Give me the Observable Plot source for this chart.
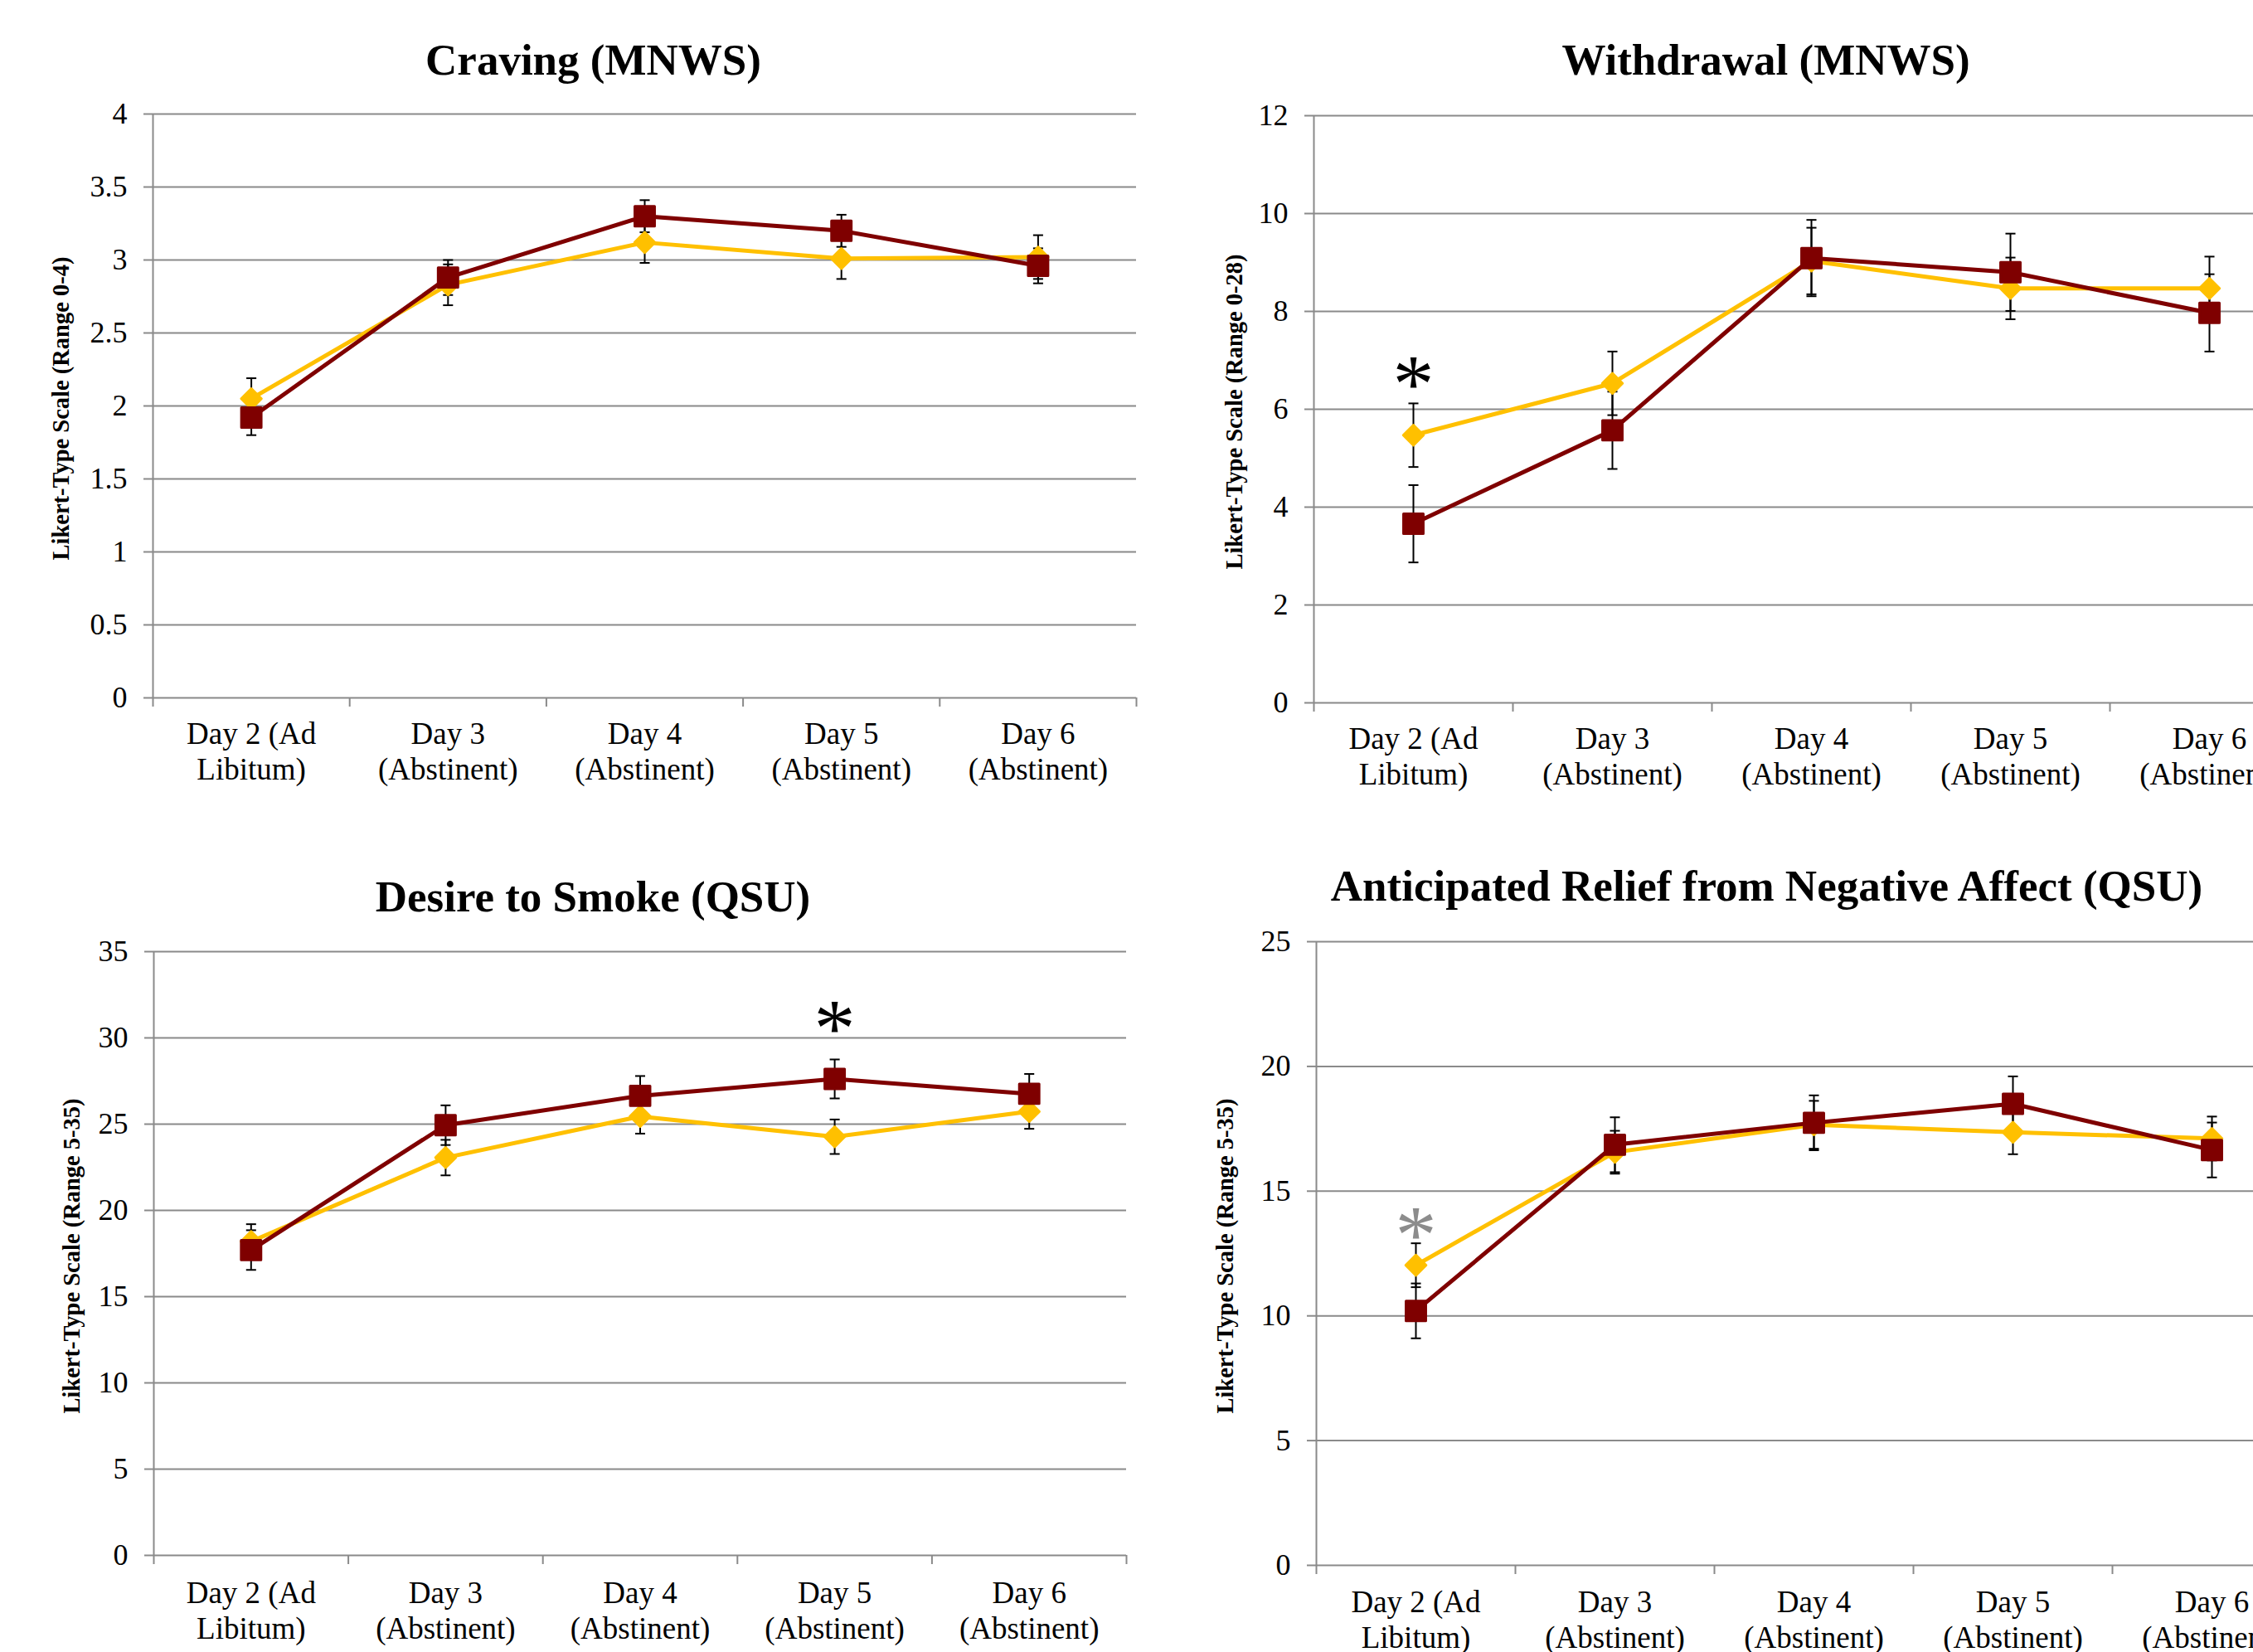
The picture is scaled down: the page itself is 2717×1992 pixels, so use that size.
<!DOCTYPE html>
<html>
<head>
<meta charset="utf-8">
<script src="https://cdn.jsdelivr.net/npm/d3@7"></script>
<script src="https://cdn.jsdelivr.net/npm/@observablehq/plot@0.6"></script>
<style>
  html, body { margin: 0; padding: 0; background: #fff; width: 2717px; height: 1992px; overflow: hidden; }
  .panel { position: absolute; }
  .panel svg { max-width: none !important; overflow: visible; }
</style>
</head>
<body>
<div id="p1" class="panel" style="left:0px;top:0px"></div>
<div id="p2" class="panel" style="left:1400px;top:0px"></div>
<div id="p3" class="panel" style="left:0px;top:1000px"></div>
<div id="p4" class="panel" style="left:1400px;top:1000px"></div>
<script>
// ---------- data ----------
const days = ["Day 2 (Ad\nLibitum)", "Day 3\n(Abstinent)", "Day 4\n(Abstinent)", "Day 5\n(Abstinent)", "Day 6\n(Abstinent)"];

const cravingTitle = "Craving (MNWS)";
const cravingYLabel = "Likert-Type Scale (Range 0-4)";
const cravingTicks = [0, 0.5, 1, 1.5, 2, 2.5, 3, 3.5, 4];
const cravingGold = [2.05, 2.83, 3.12, 3.01, 3.02];
const cravingGoldSE = [0.14, 0.14, 0.14, 0.14, 0.15];
const cravingMaroon = [1.92, 2.88, 3.30, 3.20, 2.96];
const cravingMaroonSE = [0.12, 0.12, 0.11, 0.11, 0.12];
const cravingStars = [];

const withdrawalTitle = "Withdrawal (MNWS)";
const withdrawalYLabel = "Likert-Type Scale (Range 0-28)";
const withdrawalTicks = [0, 2, 4, 6, 8, 10, 12];
const withdrawalGold = [5.47, 6.53, 9.03, 8.47, 8.47];
const withdrawalGoldSE = [0.65, 0.65, 0.68, 0.63, 0.65];
const withdrawalMaroon = [3.66, 5.57, 9.09, 8.80, 7.97];
const withdrawalMaroonSE = [0.79, 0.79, 0.78, 0.79, 0.79];
const withdrawalStars = [{day: 0, value: 6.76}];

const desireTitle = "Desire to Smoke (QSU)";
const desireYLabel = "Likert-Type Scale (Range 5-35)";
const desireTicks = [0, 5, 10, 15, 20, 25, 30, 35];
const desireGold = [18.2, 23.06, 25.45, 24.27, 25.73];
const desireGoldSE = [1.0, 1.03, 1.0, 1.0, 1.0];
const desireMaroon = [17.7, 24.94, 26.64, 27.62, 26.76];
const desireMaroonSE = [1.15, 1.15, 1.15, 1.13, 1.15];
const desireStars = [{day: 3, value: 31.25}];

const reliefTitle = "Anticipated Relief from Negative Affect (QSU)";
const reliefYLabel = "Likert-Type Scale (Range 5-35)";
const reliefTicks = [0, 5, 10, 15, 20, 25];
const reliefGold = [12.03, 16.56, 17.66, 17.36, 17.11];
const reliefGoldSE = [0.88, 0.86, 0.96, 0.88, 0.88];
const reliefMaroon = [10.2, 16.86, 17.74, 18.5, 16.65];
const reliefMaroonSE = [1.1, 1.1, 1.1, 1.1, 1.1];
const reliefStars = [{day: 0, value: 13.7}];

// ---------- styles ----------
const GOLD = "#FFC000";
const MAROON = "#7F0000";
const GRID = "#8a8a8a";
const FONT = "'Liberation Serif', 'Times New Roman', serif";

const capSymbol = {
  draw(context, size) {
    const w = Math.sqrt(size) / 2;
    context.moveTo(-w, 0);
    context.lineTo(w, 0);
  }
};

function makePanel(cfg, L) {
  const toRows = (m, se) => m.map((v, i) => ({x: i + 0.5, day: days[i], mean: v, lo: v - se[i], hi: v + se[i]}));
  const g = toRows(cfg.gold, cfg.goldSE);
  const r = toRows(cfg.maroon, cfg.maroonSE);
  const both = [...g, ...r];
  const caps = both.flatMap(d => [{x: d.x, y: d.lo}, {x: d.x, y: d.hi}]);
  const starRows = cfg.stars.map(s => ({x: s.day + 0.5, y: s.value}));
  const ticks = cfg.ticks;
  return Plot.plot({
    width: L.ml + L.w + L.mr,
    height: L.mt + L.h + L.mb,
    marginLeft: L.ml, marginRight: L.mr, marginTop: L.mt, marginBottom: L.mb,
    x: {domain: [0, days.length]},
    y: {domain: [ticks[0], ticks[ticks.length - 1]]},
    style: {fontFamily: FONT, color: "black", background: "transparent", overflow: "visible"},
    marks: [
      Plot.gridY(ticks, {stroke: GRID, strokeOpacity: 1, strokeWidth: 2}),
      Plot.ruleX([0], {stroke: GRID, strokeWidth: 2}),
      Plot.axisY(ticks, {tickSize: 11, stroke: GRID, strokeWidth: 2, tickFormat: () => "", label: null}),
      Plot.axisY(ticks, {tickSize: 0, tickPadding: 31, fontSize: 36, fontFamily: FONT, tickFormat: d3.format("~g"), label: null}),
      Plot.axisX(d3.range(days.length + 1), {tickSize: 11, stroke: GRID, strokeWidth: 2, tickFormat: () => "", label: null}),
      Plot.axisX(days.map((d, i) => i + 0.5), {tickSize: 0, tickPadding: L.xpad, fontSize: 37, fontFamily: FONT, lineHeight: 1.16,
        tickFormat: t => days[Math.floor(t)], label: null}),
      Plot.ruleX(both, {x: "x", y1: "lo", y2: "hi", stroke: "black", strokeWidth: 2}),
      Plot.dot(caps, {x: "x", y: "y", symbol: capSymbol, r: 6.8, fill: "none", stroke: "black", strokeWidth: 2}),
      Plot.line(g, {x: "x", y: "mean", stroke: GOLD, strokeWidth: 5}),
      Plot.dot(g, {x: "x", y: "mean", symbol: "diamond2", r: 11, fill: GOLD, stroke: GOLD, strokeWidth: 3, strokeLinejoin: "round"}),
      Plot.line(r, {x: "x", y: "mean", stroke: MAROON, strokeWidth: 5}),
      Plot.dot(r, {x: "x", y: "mean", symbol: "square", r: 13.5, fill: MAROON, stroke: MAROON, strokeWidth: 3, strokeLinejoin: "round"}),
      Plot.text(starRows, {x: "x", y: "y", text: () => "*", fontSize: 100, fontFamily: FONT, fill: cfg.starColor, lineAnchor: "bottom", dy: 47}),
      Plot.text([cfg.title], {text: d => d, frameAnchor: "top", lineAnchor: "bottom", dx: L.tdx, dy: L.tdy, fontSize: 53, fontWeight: "bold", fontFamily: FONT}),
      Plot.text([cfg.yLabel], {text: d => d, frameAnchor: "left", rotate: -90, lineAnchor: "top", textAnchor: "middle", dx: L.ldx, dy: 3, fontSize: 28.5, fontWeight: "bold", fontFamily: FONT})
    ]
  });
}

document.getElementById("p1").append(makePanel(
  {title: cravingTitle, yLabel: cravingYLabel, ticks: cravingTicks, gold: cravingGold, goldSE: cravingGoldSE,
   maroon: cravingMaroon, maroonSE: cravingMaroonSE, stars: cravingStars, starColor: "black"},
  {ml: 184, mr: 30, mt: 137, mb: 120, w: 1186, h: 704, tdx: -62, tdy: -48, ldx: -122, xpad: 25}));

document.getElementById("p2").append(makePanel(
  {title: withdrawalTitle, yLabel: withdrawalYLabel, ticks: withdrawalTicks, gold: withdrawalGold, goldSE: withdrawalGoldSE,
   maroon: withdrawalMaroon, maroonSE: withdrawalMaroonSE, stars: withdrawalStars, starColor: "black"},
  {ml: 184, mr: 30, mt: 139, mb: 120, w: 1200, h: 708, tdx: -55, tdy: -50, ldx: -107, xpad: 25}));

document.getElementById("p3").append(makePanel(
  {title: desireTitle, yLabel: desireYLabel, ticks: desireTicks, gold: desireGold, goldSE: desireGoldSE,
   maroon: desireMaroon, maroonSE: desireMaroonSE, stars: desireStars, starColor: "black"},
  {ml: 185, mr: 30, mt: 147, mb: 117, w: 1173, h: 728, tdx: -57, tdy: -49, ldx: -110, xpad: 27}));

document.getElementById("p4").append(makePanel(
  {title: reliefTitle, yLabel: reliefYLabel, ticks: reliefTicks, gold: reliefGold, goldSE: reliefGoldSE,
   maroon: reliefMaroon, maroonSE: reliefMaroonSE, stars: reliefStars, starColor: "#8c8c8c"},
  {ml: 187, mr: 30, mt: 135, mb: 105, w: 1200, h: 752, tdx: -57, tdy: -50, ldx: -121, xpad: 26}));
</script>
</body>
</html>
